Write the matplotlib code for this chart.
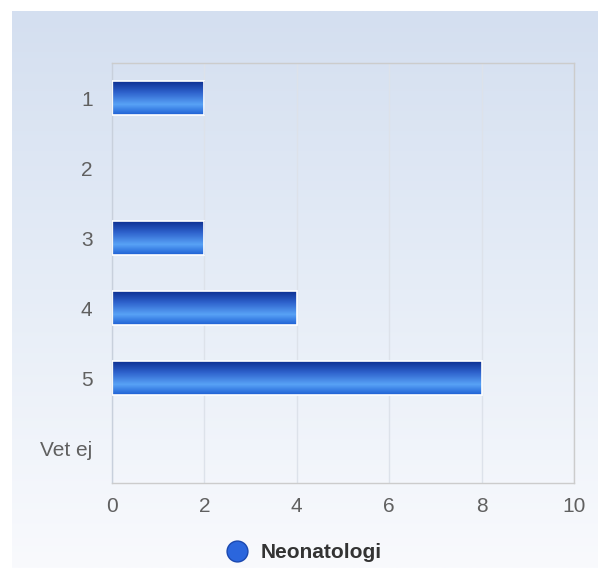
import numpy as np
import matplotlib
matplotlib.use('Agg')
import matplotlib.pyplot as plt
from matplotlib.colors import LinearSegmentedColormap
from matplotlib.lines import Line2D

categories = ['1', '2', '3', '4', '5', 'Vet ej']
values = [2, 0, 2, 4, 8, 0]
xticks = [0, 2, 4, 6, 8, 10]
series_name = 'Neonatologi'

plt.rcParams['font.family'] = ['Liberation Sans', 'DejaVu Sans']

W, H = 598, 568
fig = plt.figure(figsize=(W / 100, H / 100), dpi=100, facecolor='white')

# gradient background panel
bg = fig.add_axes([12 / W, 0, 1 - 12 / W, 1 - 11 / H])
bg_cmap = LinearSegmentedColormap.from_list('bg', ['#d4dff0', '#e6edf7', '#f9fafd'])
bg.imshow(np.linspace(0, 1, 256).reshape(-1, 1), aspect='auto', cmap=bg_cmap,
          extent=[0, 1, 0, 1], origin='upper')
bg.set_axis_off()

ax = fig.add_axes([112 / W, 1 - 483 / H, 462 / W, 420 / H])
ax.patch.set_alpha(0)
y = np.arange(len(categories))
edges = ['white' if v > 0 else 'none' for v in values]
bars = ax.barh(y, values, height=0.49, color='none', edgecolor=edges, linewidth=1.2, zorder=3)

bar_cmap = LinearSegmentedColormap.from_list(
    'bar', [(0, '#0b2b8c'), (0.35, '#2e62cc'), (0.7, '#58a2f6'), (1.0, '#1d5fd4')])
grad = np.linspace(0, 1, 128).reshape(-1, 1)
for b in bars:
    if b.get_width() == 0:
        continue
    x0, y0 = b.get_x(), b.get_y()
    im = ax.imshow(grad, aspect='auto', cmap=bar_cmap, origin='upper',
                   extent=[x0, x0 + b.get_width(), y0 + b.get_height(), y0], zorder=2)
    im.set_clip_path(b)

ax.set_xlim(0, 10)
ax.set_ylim(len(categories) - 0.5, -0.5)
ax.set_xticks(xticks)
ax.set_yticks(y)
ax.set_yticklabels(categories)
ax.tick_params(length=0, labelsize=15, labelcolor='#606060', pad=10)
ax.tick_params(axis='y', pad=14)
ax.grid(axis='x', color='#dde2ea', linewidth=1, zorder=0)
for s in ax.spines.values():
    s.set_color('#cccccc')
    s.set_linewidth(1)
ax.spines['left'].set_color('#c8d0dc')

# legend marker with a horizontal gradient
handle = Line2D([], [], linestyle='none', marker='o', markersize=15,
                markerfacecolor='#2b66dd', markeredgecolor='#1a48b0')
fig.legend([handle], [series_name], loc='center', bbox_to_anchor=(0.5, 1 - 553 / H),
           frameon=False, prop={'weight': 'bold', 'size': 15}, labelcolor='#333333',
           handletextpad=0.1, borderaxespad=0)

fig.savefig('out.png', dpi=100)
